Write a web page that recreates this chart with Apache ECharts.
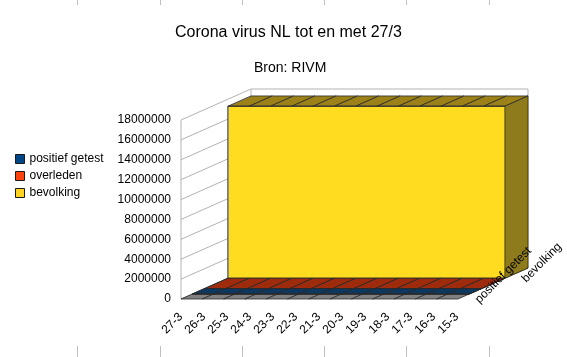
<!DOCTYPE html>
<html><head><meta charset="utf-8">
<script src="https://cdn.jsdelivr.net/npm/echarts@6/dist/echarts.min.js"></script>
<style>html,body{margin:0;padding:0;background:#fff}#c{width:567px;height:357px}</style>
</head><body><div id="c"></div>
<script>
// ---- data ----
const categories = ['27-3','26-3','25-3','24-3','23-3','22-3','21-3','20-3','19-3','18-3','17-3','16-3','15-3'];
const positiefGetest = [8603,7431,6412,5560,4749,4204,3631,2994,2460,2051,1705,1413,1135];
const overleden = [546,434,356,276,213,179,136,106,76,58,43,24,20];
const bevolking = [17300000,17300000,17300000,17300000,17300000,17300000,17300000,17300000,17300000,17300000,17300000,17300000,17300000];
const seriesNames = ['positief getest','overleden','bevolking'];
const depthAxisLabels = ['positief getest','','bevolking'];
const yTicks = [0,2000000,4000000,6000000,8000000,10000000,12000000,14000000,16000000,18000000];
const titleText = 'Corona virus NL tot en met 27/3';
const subtitleText = 'Bron: RIVM';

// ---- styling / layout ----
const FONT = 'Liberation Sans';
const DX = 70, DY = -31;                    // full depth vector (px)
const DEPTH = [[0.16,0.33],[0.33,0.67],[0.67,1.0]];
const BASE = ['#004586','#ff420e','#ffd320'];
const FRONT = ['#004586','#ff420e','#ffdc20'];
const TOP = ['#0c3862','#9e2b0c','#9c8018'];
const SIDE = ['#0a2e52','#8a260b','#8e7b1b'];
const EDGE = '#2a2a2a';
const WALL = '#b3b3b3';
const N = categories.length;

function off(d){ return [d*DX, d*DY]; }

function barRender(s){
  return function(params, api){
    const i = api.value(0), v = api.value(1);
    const t = api.coord([i, v]), b = api.coord([i, 0]);
    const w = api.size([1, 0])[0];
    const L = t[0]-w/2, R = t[0]+w/2, yt = t[1], yb = b[1];
    const o0 = off(DEPTH[s][0]), o1 = off(DEPTH[s][1]);
    const ext = params.dataIndex === N-1 ? 0 : 0.8;   // overlap to hide seams
    const ch = [];
    ch.push({type:'polygon', shape:{points:[[L+o0[0],yt+o0[1]],[R+ext+o0[0],yt+o0[1]],[R+ext+o0[0],yb+o0[1]],[L+o0[0],yb+o0[1]]]},
      style:{fill:FRONT[s], stroke:null}});
    ch.push({type:'polygon', shape:{points:[[L+o0[0],yt+o0[1]],[R+o0[0],yt+o0[1]],[R+o1[0],yt+o1[1]],[L+o1[0],yt+o1[1]]]},
      style:{fill:TOP[s], stroke:EDGE, lineWidth:0.8}});
    ch.push({type:'line', shape:{x1:L+o0[0],y1:yt+o0[1],x2:R+o0[0],y2:yt+o0[1]}, style:{stroke:EDGE, lineWidth:1}});
    ch.push({type:'line', shape:{x1:L+o0[0],y1:yb+o0[1],x2:R+o0[0],y2:yb+o0[1]}, style:{stroke:EDGE, lineWidth:1}});
    if (params.dataIndex === 0) {
      ch.push({type:'line', shape:{x1:L+o0[0],y1:yt+o0[1],x2:L+o0[0],y2:yb+o0[1]}, style:{stroke:EDGE, lineWidth:1}});
    }
    if (params.dataIndex === N-1) {
      ch.push({type:'polygon', shape:{points:[[R+o0[0],yt+o0[1]],[R+o1[0],yt+o1[1]],[R+o1[0],yb+o1[1]],[R+o0[0],yb+o0[1]]]},
        style:{fill:SIDE[s], stroke:EDGE, lineWidth:0.8}});
    }
    return {type:'group', children:ch};
  };
}

function floorRender(params, api){
  const i = api.value(0);
  const b = api.coord([i, 0]);
  const w = api.size([1, 0])[0];
  const L = b[0]-w/2, R = b[0]+w/2, y = b[1];
  const o1 = off(1);
  return {type:'polygon', shape:{points:[[L,y],[R,y],[R+o1[0],y+o1[1]],[L+o1[0],y+o1[1]]]},
    style:{fill:'#808080', stroke:EDGE, lineWidth:0.8}};
}

function wallRender(params, api){
  const v = api.value(1);
  const w = api.size([1, 0])[0];
  const p0 = api.coord([0, v]), pN = api.coord([N-1, v]);
  const Lf = p0[0]-w/2, Rf = pN[0]+w/2, y = p0[1];
  const o1 = off(1);
  const ch = [];
  ch.push({type:'line', shape:{x1:Lf,y1:y,x2:Lf+o1[0],y2:y+o1[1]}, style:{stroke:WALL, lineWidth:1}});
  ch.push({type:'line', shape:{x1:Lf+o1[0],y1:y+o1[1],x2:Rf+o1[0],y2:y+o1[1]}, style:{stroke:WALL, lineWidth:1}});
  if (params.dataIndex === yTicks.length-1) {
    const y0 = api.coord([0, 0])[1];
    ch.push({type:'line', shape:{x1:Lf,y1:y,x2:Lf,y2:y0}, style:{stroke:WALL, lineWidth:1}});
    ch.push({type:'line', shape:{x1:Lf+o1[0],y1:y+o1[1],x2:Lf+o1[0],y2:y0+o1[1]}, style:{stroke:WALL, lineWidth:1}});
    ch.push({type:'line', shape:{x1:Rf+o1[0],y1:y+o1[1],x2:Rf+o1[0],y2:y0+o1[1]}, style:{stroke:WALL, lineWidth:1}});
  }
  return {type:'group', children:ch};
}

function depthLabelRender(params, api){
  const k = api.value(2);
  const w = api.size([1, 0])[0];
  const p = api.coord([N-1, 0]);
  const o = off((k+0.5)/3);
  return {type:'text', x:p[0]+w/2+o[0]+7.5, y:p[1]+o[1]+7.5, rotation:Math.PI/4,
    style:{text:depthAxisLabels[k], fontSize:12, fontFamily:FONT, fill:'#000', align:'left', verticalAlign:'middle'}};
}

const chart = echarts.init(document.getElementById('c'), null, {renderer:'canvas'});
const marksX = [77,160,242,324,406,489];
const graphics = [];
marksX.forEach(x => {
  graphics.push({type:'line', shape:{x1:x+0.5,y1:0,x2:x+0.5,y2:5}, style:{stroke:'#c0c0c0', lineWidth:1}});
  graphics.push({type:'line', shape:{x1:x+0.5,y1:346,x2:x+0.5,y2:357}, style:{stroke:'#c0c0c0', lineWidth:1}});
});

const option = {
  animation:false,
  backgroundColor:'#fff',
  textStyle:{fontFamily:FONT},
  title:[
    {text:titleText, left:175, top:25, padding:0, textStyle:{fontSize:16, fontWeight:'normal', color:'#000', fontFamily:FONT}},
    {text:subtitleText, left:254, top:61, padding:0, textStyle:{fontSize:14, fontWeight:'normal', color:'#000', fontFamily:FONT}}
  ],
  legend:{orient:'vertical', left:10, top:148, itemWidth:9, itemHeight:9, itemGap:5, icon:'rect',
    data:seriesNames, textStyle:{fontSize:12, color:'#000', fontFamily:FONT},
    itemStyle:{borderColor:'#1a1a1a', borderWidth:1}, selectedMode:false},
  grid:[
    {left:181, width:277, top:120, height:179},
    {left:169.5, width:299, top:120, height:179}
  ],
  xAxis:[
    {type:'category', gridIndex:0, data:categories, axisLine:{show:false}, axisTick:{show:false}, axisLabel:{show:false}, splitLine:{show:false}},
    {type:'category', gridIndex:1, data:categories, axisLine:{show:false}, axisTick:{show:false}, splitLine:{show:false},
      axisLabel:{show:true, interval:0, rotate:45, margin:16, fontSize:12, color:'#000', fontFamily:FONT}}
  ],
  yAxis:[
    {type:'value', gridIndex:0, min:0, max:18000000, interval:2000000, axisLine:{show:false}, axisTick:{show:false}, splitLine:{show:false},
      axisLabel:{margin:10, fontSize:12, color:'#000', fontFamily:FONT, formatter:(v)=>String(v)}},
    {type:'value', gridIndex:1, min:0, max:18000000, show:false}
  ],
  graphic:graphics,
  series:[
    {type:'custom', name:'_walls', xAxisIndex:0, yAxisIndex:0, renderItem:wallRender, data:yTicks.map(t=>[0,t]), silent:true, z:1},
    {type:'custom', name:'_floor', xAxisIndex:0, yAxisIndex:0, renderItem:floorRender, data:categories.map((c,i)=>[i,0]), silent:true, z:2},
    {type:'custom', name:seriesNames[2], xAxisIndex:0, yAxisIndex:0, renderItem:barRender(2), itemStyle:{color:BASE[2]}, data:bevolking.map((v,i)=>[i,v]), z:3},
    {type:'custom', name:seriesNames[1], xAxisIndex:0, yAxisIndex:0, renderItem:barRender(1), itemStyle:{color:BASE[1]}, data:overleden.map((v,i)=>[i,v]), z:4},
    {type:'custom', name:seriesNames[0], xAxisIndex:0, yAxisIndex:0, renderItem:barRender(0), itemStyle:{color:BASE[0]}, data:positiefGetest.map((v,i)=>[i,v]), z:5},
    {type:'custom', name:'_depthLabels', xAxisIndex:0, yAxisIndex:0, renderItem:depthLabelRender,
      data:depthAxisLabels.map((t,k)=>[N-1,0,k]).filter(d=>depthAxisLabels[d[2]]!==''), silent:true, z:6}
  ]
};
chart.setOption(option);
</script></body></html>
